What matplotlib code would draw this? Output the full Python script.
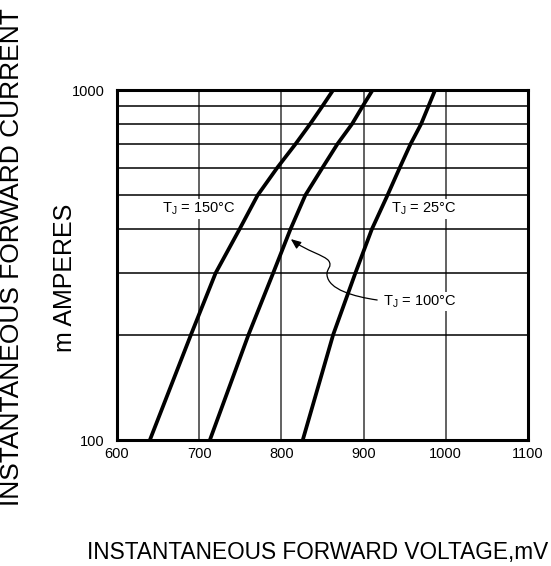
import numpy as np
import matplotlib.pyplot as plt
from matplotlib.path import Path
from matplotlib.patches import FancyArrowPatch

plt.rcParams['font.family'] = ['Liberation Sans', 'DejaVu Sans']
plt.rcParams['mathtext.default'] = 'regular'

# forward current, mA
current = [100, 200, 300, 400, 500, 600, 700, 800, 900, 1000]
# forward voltage, mV
v_150 = [640, 690, 720, 749, 771, 795, 817, 835, 850, 863]
v_100 = [713, 760, 790, 811, 829, 850, 868, 886, 899, 911]
v_25 = [826, 863, 890, 910, 929, 944, 957, 970, 979, 987]

x_ticks = [600, 700, 800, 900, 1000, 1100]
y_ticks = [100, 1000]
y_grid = [200, 300, 400, 500, 600, 700, 800, 900]

fig = plt.figure(figsize=(5.51, 5.66), dpi=100)
ax = fig.add_axes([117 / 551, 1 - 440 / 566, 411 / 551, 350 / 566])
ax.set_yscale("log")
ax.set_xlim(600, 1100)
ax.set_ylim(100, 1000)

# grid
for x in x_ticks[1:-1]:
    ax.axvline(x, color="#555555", lw=1.3, zorder=1)
for y in y_grid:
    ax.axhline(y, color="black", lw=1.1, zorder=1)

for v in (v_150, v_100, v_25):
    ax.plot(v, current, color="black", lw=2.7, zorder=3,
            solid_capstyle="butt", solid_joinstyle="round")

ax.set_xticks(x_ticks)
ax.set_xticklabels([str(t) for t in x_ticks])
ax.set_yticks(y_ticks)
ax.set_yticklabels([str(t) for t in y_ticks])
ax.yaxis.set_minor_locator(plt.NullLocator())
ax.tick_params(length=0, labelsize=10.5, pad=5)
ax.tick_params(axis="y", pad=9)
for s in ax.spines.values():
    s.set_linewidth(2.2)
    s.set_zorder(5)

box = dict(facecolor="white", edgecolor="none", pad=1)
ax.text(655, 457, r"T$_J$ = 150°C", fontsize=10.5, va="center", bbox=box, zorder=4)
ax.text(933, 457, r"T$_J$ = 25°C", fontsize=10.5, va="center", bbox=box, zorder=4)
ax.text(923, 249, r"T$_J$ = 100°C", fontsize=10.5, va="center", bbox=box, zorder=4)

# wavy leader from the 100 C label to its curve
verts = [(0.633, 0.400),
         (0.575, 0.410), (0.515, 0.430), (0.511, 0.471),
         (0.509, 0.490), (0.525, 0.495), (0.515, 0.512),
         (0.505, 0.528), (0.460, 0.540), (0.423, 0.574)]
codes = [Path.MOVETO] + [Path.CURVE4] * 9
arrow = FancyArrowPatch(path=Path(verts, codes), arrowstyle="-|>,head_length=6,head_width=2.5",
                        color="black", lw=0.9, transform=ax.transAxes, zorder=4)
ax.add_patch(arrow)

fig.text(12 / 551, 1 - 257 / 566, "INSTANTANEOUS FORWARD CURRENT", rotation=90,
         fontsize=19, ha="center", va="center")
fig.text(65 / 551, 1 - 278 / 566, "m AMPERES", rotation=90,
         fontsize=18, ha="center", va="center")
fig.text(87 / 551, 1 - 553 / 566, "INSTANTANEOUS FORWARD VOLTAGE,mV",
         fontsize=16.3, ha="left", va="center")

fig.savefig("out.png", dpi=100)
